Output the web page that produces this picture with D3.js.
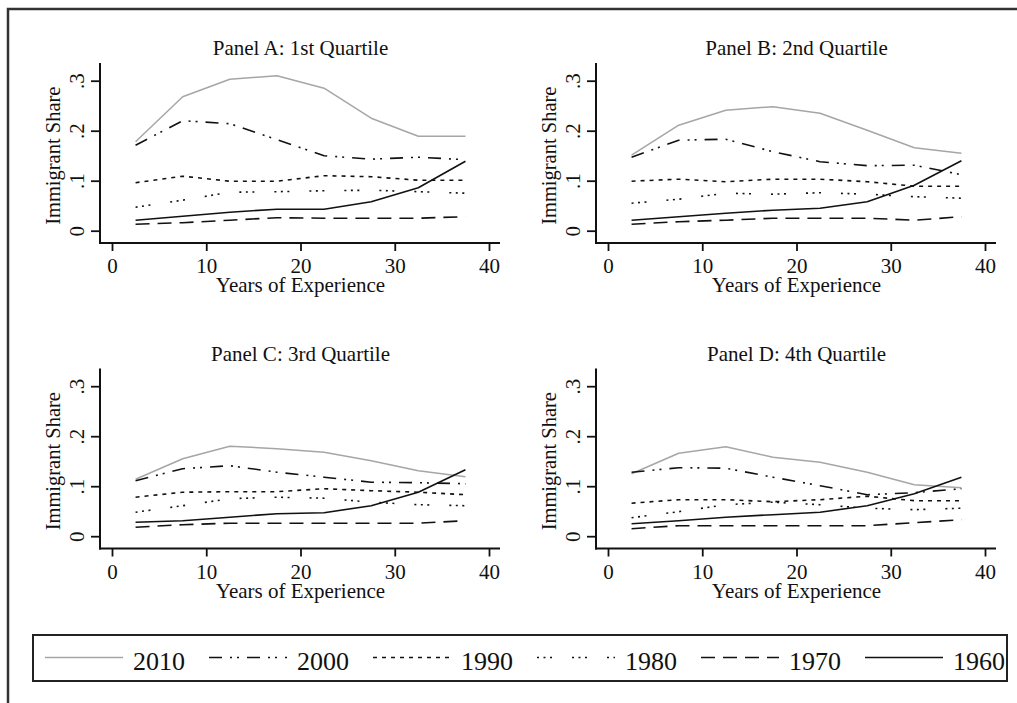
<!DOCTYPE html>
<html>
<head>
<meta charset="utf-8">
<script src="https://cdn.jsdelivr.net/npm/d3@7"></script>
<style>
  body { margin: 0; background: #fff; }
  text { font-family: "Liberation Serif", "Times New Roman", serif; fill: #111; }
</style>
</head>
<body>
<svg id="chart" width="1017" height="703"></svg>
<script>
// experience bins (mid points of 5-year groups)
const experience = [2.5, 7.5, 12.5, 17.5, 22.5, 27.5, 32.5, 37.5];
const years = ['2010', '2000', '1990', '1980', '1970', '1960'];
const panelTitles = ['Panel A: 1st Quartile', 'Panel B: 2nd Quartile', 'Panel C: 3rd Quartile', 'Panel D: 4th Quartile'];
const xTicks = [0, 10, 20, 30, 40];
const yTicks = [0, 0.1, 0.2, 0.3];

// immigrant share by census year, one array per panel
const panelA_2010 = [0.178, 0.268, 0.303, 0.310, 0.285, 0.225, 0.189, 0.189];
const panelA_2000 = [0.171, 0.220, 0.214, 0.182, 0.150, 0.143, 0.147, 0.142];
const panelA_1990 = [0.096, 0.109, 0.099, 0.099, 0.110, 0.108, 0.101, 0.101];
const panelA_1980 = [0.047, 0.061, 0.077, 0.078, 0.080, 0.081, 0.078, 0.075];
const panelA_1970 = [0.013, 0.016, 0.021, 0.026, 0.025, 0.025, 0.025, 0.028];
const panelA_1960 = [0.021, 0.029, 0.037, 0.043, 0.043, 0.058, 0.086, 0.139];

const panelB_2010 = [0.151, 0.211, 0.241, 0.248, 0.235, 0.201, 0.166, 0.155];
const panelB_2000 = [0.147, 0.181, 0.183, 0.158, 0.138, 0.130, 0.131, 0.112];
const panelB_1990 = [0.099, 0.103, 0.098, 0.103, 0.103, 0.098, 0.089, 0.089];
const panelB_1980 = [0.055, 0.063, 0.075, 0.073, 0.076, 0.073, 0.068, 0.065];
const panelB_1970 = [0.013, 0.018, 0.021, 0.025, 0.025, 0.025, 0.021, 0.028];
const panelB_1960 = [0.021, 0.028, 0.035, 0.041, 0.045, 0.058, 0.091, 0.140];

const panelC_2010 = [0.114, 0.155, 0.180, 0.175, 0.168, 0.151, 0.131, 0.119];
const panelC_2000 = [0.111, 0.135, 0.141, 0.128, 0.118, 0.108, 0.107, 0.105];
const panelC_1990 = [0.078, 0.088, 0.089, 0.089, 0.095, 0.091, 0.088, 0.083];
const panelC_1980 = [0.048, 0.061, 0.075, 0.078, 0.076, 0.068, 0.063, 0.061];
const panelC_1970 = [0.018, 0.023, 0.026, 0.026, 0.026, 0.026, 0.026, 0.031];
const panelC_1960 = [0.028, 0.031, 0.038, 0.045, 0.047, 0.061, 0.088, 0.133];

const panelD_2010 = [0.125, 0.166, 0.179, 0.158, 0.148, 0.128, 0.103, 0.097];
const panelD_2000 = [0.128, 0.137, 0.136, 0.118, 0.101, 0.083, 0.087, 0.095];
const panelD_1990 = [0.066, 0.073, 0.073, 0.069, 0.073, 0.080, 0.071, 0.071];
const panelD_1980 = [0.037, 0.049, 0.063, 0.068, 0.063, 0.056, 0.053, 0.056];
const panelD_1970 = [0.015, 0.021, 0.021, 0.021, 0.021, 0.021, 0.027, 0.033];
const panelD_1960 = [0.025, 0.031, 0.038, 0.043, 0.048, 0.061, 0.085, 0.118];

const panels = [
    [panelA_2010, panelA_2000, panelA_1990, panelA_1980, panelA_1970, panelA_1960],
    [panelB_2010, panelB_2000, panelB_1990, panelB_1980, panelB_1970, panelB_1960],
    [panelC_2010, panelC_2000, panelC_1990, panelC_1980, panelC_1970, panelC_1960],
    [panelD_2010, panelD_2000, panelD_1990, panelD_1980, panelD_1970, panelD_1960]
];

// stata-ish line patterns
const styles = {
    '2010': { color: '#a6a6a6', width: 1.5, dash: null },
    '2000': { color: '#111', width: 1.6, dash: '13,8,2,5,2,8' },
    '1990': { color: '#111', width: 1.6, dash: '4,5' },
    '1980': { color: '#111', width: 1.6, dash: '2,4.5,2,4.5,2,20' },
    '1970': { color: '#111', width: 1.6, dash: '14,8' },
    '1960': { color: '#111', width: 1.6, dash: null }
};

const svg = d3.select('#chart');

// outer frame (only left/top visible)
svg.append('path')
    .attr('d', 'M8,703 L8,9 L1017,9')
    .attr('fill', 'none')
    .attr('stroke', '#333')
    .attr('stroke-width', 2.5);

const colStep = 496;
const rowStep = 305.5;

panels.forEach((series, p) => {
    const dx = (p % 2) * colStep;
    const dy = Math.floor(p / 2) * rowStep;
    const g = svg.append('g').attr('transform', `translate(${dx}, ${dy})`);

    const x = d3.scaleLinear().domain([0, 40]).range([112, 489]);
    const y = d3.scaleLinear().domain([0, 0.3]).range([230.7, 80.7]);
    const axisY = 243;
    const axisX = 100;

    // title
    g.append('text')
        .attr('x', x(20)).attr('y', 55)
        .attr('text-anchor', 'middle')
        .attr('font-size', 21)
        .text(panelTitles[p]);

    // axes lines
    g.append('line')
        .attr('x1', axisX).attr('x2', axisX)
        .attr('y1', 63).attr('y2', axisY + 1)
        .attr('stroke', '#111').attr('stroke-width', 2);
    g.append('line')
        .attr('x1', axisX - 1).attr('x2', 500)
        .attr('y1', axisY).attr('y2', axisY)
        .attr('stroke', '#111').attr('stroke-width', 2);

    const xAxis = g.append('g')
        .attr('transform', `translate(0, ${axisY})`)
        .call(d3.axisBottom(x).tickValues(xTicks).tickSize(8).tickSizeOuter(0).tickFormat(d3.format('d')));
    xAxis.select('.domain').remove();
    xAxis.selectAll('line').attr('stroke', '#111').attr('stroke-width', 1.8);
    xAxis.selectAll('text')
        .attr('y', 30).attr('dy', 0)
        .attr('font-size', 21)
        .attr('font-family', '"Liberation Serif", serif')
        .attr('fill', '#111');

    const yAxis = g.append('g')
        .attr('transform', `translate(${axisX}, 0)`)
        .call(d3.axisLeft(y).tickValues(yTicks).tickSize(9).tickSizeOuter(0)
            .tickFormat(d => d === 0 ? '0' : d3.format('.1f')(d).replace(/^0/, '')));
    yAxis.select('.domain').remove();
    yAxis.selectAll('line').attr('stroke', '#111').attr('stroke-width', 1.8);
    yAxis.selectAll('text')
        .attr('x', null).attr('dy', 0)
        .attr('text-anchor', 'middle')
        .attr('transform', 'translate(-16, 0) rotate(-90)')
        .attr('font-size', 21)
        .attr('font-family', '"Liberation Serif", serif')
        .attr('fill', '#111');

    // axis titles
    g.append('text')
        .attr('x', x(20)).attr('y', 292)
        .attr('text-anchor', 'middle')
        .attr('font-size', 21)
        .text('Years of Experience');
    g.append('text')
        .attr('transform', `translate(60, ${y(0.15)}) rotate(-90)`)
        .attr('text-anchor', 'middle')
        .attr('font-size', 20.5)
        .text('Immigrant Share');

    const line = d3.line()
        .x((d, i) => x(experience[i]))
        .y(d => y(d));

    // draw 2010 first so the black lines sit on top
    series.forEach((vals, s) => {
        const st = styles[years[s]];
        g.append('path')
            .datum(vals)
            .attr('d', line)
            .attr('fill', 'none')
            .attr('stroke', st.color)
            .attr('stroke-width', st.width)
            .attr('stroke-dasharray', st.dash)
            .attr('stroke-linejoin', 'round');
    });
});

// legend
const legend = svg.append('g');
legend.append('rect')
    .attr('x', 33).attr('y', 635)
    .attr('width', 974).attr('height', 46)
    .attr('fill', '#fff')
    .attr('stroke', '#222').attr('stroke-width', 2);

const legendX = d3.scalePoint().domain(years).range([133, 953]);
years.forEach(yr => {
    const st = styles[yr];
    const lx = legendX(yr);
    legend.append('line')
        .attr('x1', lx - 88).attr('x2', lx - 10)
        .attr('y1', 657.5).attr('y2', 657.5)
        .attr('stroke', st.color)
        .attr('stroke-width', st.width)
        .attr('stroke-dasharray', st.dash);
    legend.append('text')
        .attr('x', lx).attr('y', 670)
        .attr('font-size', 26)
        .text(yr);
});
</script>
</body>
</html>
